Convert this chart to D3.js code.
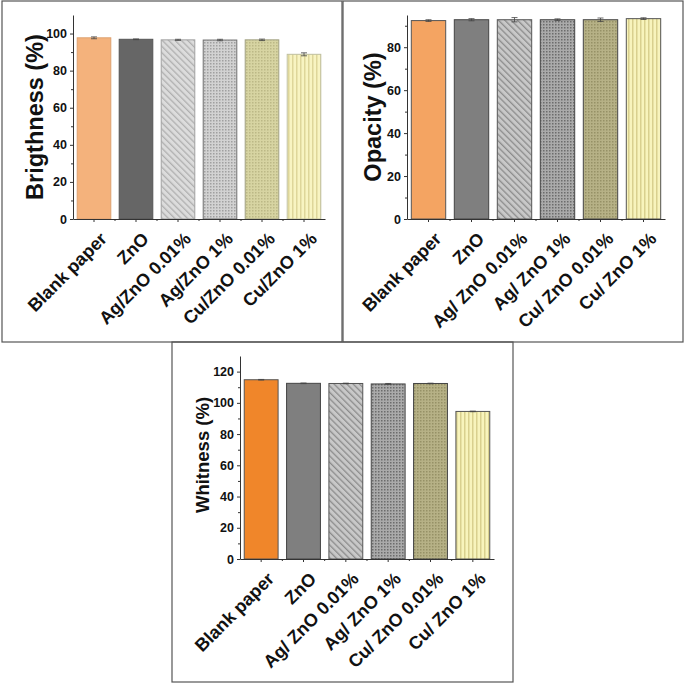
<!DOCTYPE html>
<html>
<head>
<meta charset="utf-8">
<script src="https://cdnjs.cloudflare.com/ajax/libs/d3/7.8.5/d3.min.js"></script>
<style>
    body { margin: 0; background: #fff; }
    svg text { font-family: Arial, 'Liberation Sans', sans-serif; font-weight: bold; }
</style>
</head>
<body>
<svg width="685" height="685"></svg>
<script>
/*
    Three bar charts: brightness, opacity and whitness of treated papers.
*/

// Categories (the second and third charts use a space after the slash)
let samplesA = ['Blank paper', 'ZnO', 'Ag/ZnO 0.01%', 'Ag/ZnO 1%', 'Cu/ZnO 0.01%', 'Cu/ZnO 1%'];
let samplesB = ['Blank paper', 'ZnO', 'Ag/ ZnO 0.01%', 'Ag/ ZnO 1%', 'Cu/ ZnO 0.01%', 'Cu/ ZnO 1%'];

// Values
let brightness = [97.7, 96.9, 96.6, 96.5, 96.6, 88.8];
let brightnessErr = [0.5, 0.2, 0.3, 0.4, 0.4, 0.8];
let opacity = [92.4, 92.8, 92.8, 92.8, 92.8, 93.3];
let opacityErr = [0.4, 0.5, 1.0, 0.4, 0.8, 0.4];
let whitness = [114.8, 112.5, 112.4, 112.1, 112.4, 94.5];
let whitnessErr = [0.2, 0.2, 0.2, 0.3, 0.2, 0.2];

// Tick values
let ticksBrightness = [0, 20, 40, 60, 80, 100];
let ticksOpacity = [0, 20, 40, 60, 80];
let ticksWhitness = [0, 20, 40, 60, 80, 100, 120];

let svg = d3.select('svg');
let defs = svg.append('defs');

// Bar styles for each chart: fill, pattern and edge
let styles1 = [
    { bg: '#f4b27c', edge: '#dda070' },
    { bg: '#666666', edge: '#555555' },
    { bg: '#dcdcdc', ink: '#b0b0b0', kind: 'diag', edge: '#a0a0a0' },
    { bg: '#d2d2d2', ink: '#a0a0a0', kind: 'dots', edge: '#707070' },
    { bg: '#d7d4a2', ink: '#bcb886', kind: 'dots', edge: '#a0a080' },
    { bg: '#f8f4c2', ink: '#ded69a', kind: 'vline', edge: '#c0c0a0' }
];
let styles2 = [
    { bg: '#f4a462', edge: '#555555' },
    { bg: '#7f7f7f', edge: '#444444' },
    { bg: '#c8c8c8', ink: '#8c8c8c', kind: 'diag', edge: '#555555' },
    { bg: '#aaaaaa', ink: '#6c6c6c', kind: 'dots', edge: '#444444' },
    { bg: '#b6b186', ink: '#969166', kind: 'dots', edge: '#444444' },
    { bg: '#f8f4bc', ink: '#d9d08e', kind: 'vline', edge: '#555555' }
];
let styles3 = styles2.map((s, i) => i === 0 ? { bg: '#f0862a', edge: '#555555' } : s);

// Make an svg pattern and return the fill reference
function makeFill(id, s) {
    if (!s.kind) return s.bg;
    let size = s.kind === 'diag' ? 4.5 : s.kind === 'dots' ? 3 : 4;
    let p = defs.append('pattern')
        .attr('id', id)
        .attr('patternUnits', 'userSpaceOnUse')
        .attr('width', size).attr('height', size);
    p.append('rect').attr('width', size).attr('height', size).attr('fill', s.bg);
    if (s.kind === 'diag') {
        p.attr('patternTransform', 'rotate(-45)');
        p.append('rect').attr('width', 1.3).attr('height', size).attr('fill', s.ink);
    } else if (s.kind === 'dots') {
        p.append('rect').attr('width', 1.5).attr('height', 1.5).attr('fill', s.ink);
    } else {
        p.append('rect').attr('width', 1.5).attr('height', size).attr('fill', s.ink);
    }
    return 'url(#' + id + ')';
}

// Draw one chart
function drawPanel(o) {
    let g = svg.append('g');

    // Panel frame
    g.append('rect')
        .attr('x', o.frame[0]).attr('y', o.frame[1])
        .attr('width', o.frame[2]).attr('height', o.frame[3])
        .attr('fill', 'none').attr('stroke', '#555').attr('stroke-width', 1.2);

    let x = d3.scaleBand()
        .domain(o.labels)
        .range([o.left, o.right])
        .paddingInner(0.2)
        .paddingOuter(0.1);

    let y = d3.scaleLinear()
        .domain([0, o.max])
        .range([o.bottom, o.top]);

    // Bars
    let fills = o.styles.map((s, i) => makeFill(o.id + i, s));
    g.selectAll('.bar')
        .data(o.values)
        .enter().append('rect')
        .attr('x', (d, i) => x(o.labels[i]))
        .attr('y', d => y(d))
        .attr('width', x.bandwidth())
        .attr('height', d => y(0) - y(d))
        .attr('fill', (d, i) => fills[i])
        .attr('stroke', (d, i) => o.styles[i].edge)
        .attr('stroke-width', 1);

    // Error bars
    let err = g.selectAll('.err')
        .data(o.values)
        .enter().append('g')
        .attr('stroke', '#444').attr('stroke-width', 0.8);
    err.append('line')
        .attr('x1', (d, i) => x(o.labels[i]) + x.bandwidth() / 2)
        .attr('x2', (d, i) => x(o.labels[i]) + x.bandwidth() / 2)
        .attr('y1', (d, i) => y(d + o.errors[i]))
        .attr('y2', (d, i) => y(d - o.errors[i]));
    err.selectAll('.cap')
        .data((d, i) => [[i, d + o.errors[i]], [i, d - o.errors[i]]])
        .enter().append('line')
        .attr('x1', d => x(o.labels[d[0]]) + x.bandwidth() / 2 - 3)
        .attr('x2', d => x(o.labels[d[0]]) + x.bandwidth() / 2 + 3)
        .attr('y1', d => y(d[1]))
        .attr('y2', d => y(d[1]));

    // Y axis with minor ticks
    let minor = d3.range(10, o.max, 20);
    g.append('g')
        .attr('transform', 'translate(' + o.left + ',0)')
        .call(d3.axisLeft(y).tickValues(minor).tickSize(2).tickFormat(''))
        .call(a => a.select('.domain').remove());
    let ya = g.append('g')
        .attr('transform', 'translate(' + o.left + ',0)')
        .call(d3.axisLeft(y).tickValues(o.ticks).tickSize(3).tickSizeOuter(0).tickPadding(3));
    ya.selectAll('text').attr('font-size', 12.5).attr('fill', '#111');

    // X axis: ticks at bar centres, minor ticks between bars
    let xa = g.append('g')
        .attr('transform', 'translate(0,' + o.bottom + ')')
        .call(d3.axisBottom(x).tickSize(3).tickSizeOuter(0).tickFormat(''));
    xa.selectAll('.tick')
        .filter((d, i) => i > 0)
        .append('line')
        .attr('x1', -x.step() / 2).attr('x2', -x.step() / 2)
        .attr('y2', 2).attr('stroke', 'currentColor');
    svg.selectAll('.domain, .tick line').attr('stroke', '#333');

    // Rotated category labels
    g.selectAll('.xlabel')
        .data(o.labels)
        .enter().append('text')
        .attr('text-anchor', 'end')
        .attr('font-size', o.labelSize)
        .attr('fill', '#111')
        .attr('transform', d => 'translate(' + (x(d) + x.bandwidth() / 2 + 14) + ',' + (o.bottom + 21) + ') rotate(-45)')
        .text(d => d);

    // Y axis title
    g.append('text')
        .attr('text-anchor', 'middle')
        .attr('font-size', o.titleSize)
        .attr('fill', '#111')
        .attr('transform', 'translate(' + o.titleX + ',' + o.titleY + ') rotate(-90)')
        .text(o.title);
}

drawPanel({
    id: 'p1', labels: samplesA, values: brightness, errors: brightnessErr, styles: styles1,
    ticks: ticksBrightness, max: 110, title: 'Brigthness (%)',
    frame: [2, 1, 340, 341], left: 73, right: 325, top: 15, bottom: 219,
    labelSize: 18, titleSize: 23.5, titleX: 43, titleY: 117
});

drawPanel({
    id: 'p2', labels: samplesB, values: opacity, errors: opacityErr, styles: styles2,
    ticks: ticksOpacity, max: 95, title: 'Opacity (%)',
    frame: [343, 1, 340, 341], left: 407, right: 665, top: 15, bottom: 219,
    labelSize: 18, titleSize: 23.5, titleX: 381, titleY: 117
});

drawPanel({
    id: 'p3', labels: samplesB, values: whitness, errors: whitnessErr, styles: styles3,
    ticks: ticksWhitness, max: 130, title: 'Whitness (%)',
    frame: [172, 342, 341, 340], left: 240, right: 494, top: 356, bottom: 559,
    labelSize: 18, titleSize: 18.5, titleX: 209, titleY: 455
});
</script>
</body>
</html>
